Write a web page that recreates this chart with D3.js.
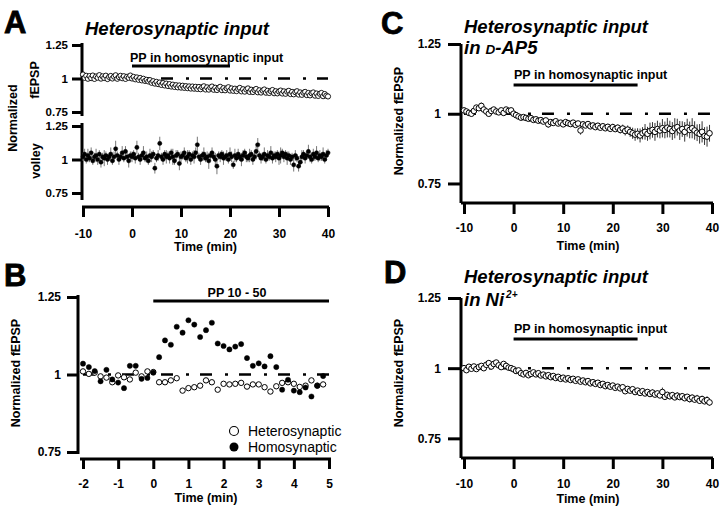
<!DOCTYPE html>
<html><head><meta charset="utf-8">
<script src="https://cdn.jsdelivr.net/npm/d3@7"></script>
<style>
html,body{margin:0;padding:0;background:#fff;}
svg{display:block;font-family:"Liberation Sans",Arial,Helvetica,sans-serif;}
</style></head><body>
<svg id="chart" width="720" height="508"></svg>
<script>
// ---------------- DATA ----------------
const yTickValues = [0.75, 1, 1.25];
const yTickLabels = ["0.75", "1", "1.25"];
const xTicksLong = [-10, 0, 10, 20, 30, 40];
const xTicksShort = [-2, -1, 0, 1, 2, 3, 4, 5];
const baselineValue = 1;

// Panel A: heterosynaptic fEPSP and fiber volley, sampled every 20 s from -10 min
const aStart = -10, aStep = 1 / 3;
const aFepsp = [
  1.03, 1.005, 1.02, 0.998, 1.018, 1.003, 1.022, 0.997, 1.015, 1.006,
  1.025, 0.999, 1.016, 1.004, 1.021, 0.996, 1.012, 1.019, 1.0, 1.014,
  1.024, 0.998, 1.011, 1.02, 1.002, 1.017, 0.997, 1.013, 1.005, 1.022, 1.0,
  1.012, 0.994, 1.008, 0.99, 1.004, 0.986, 0.998, 0.982, 0.99,
  0.978, 0.988, 0.968, 0.98, 0.962, 0.975, 0.958, 0.97, 0.952, 0.966,
  0.948, 0.962, 0.944, 0.958, 0.94, 0.954, 0.937, 0.95, 0.934, 0.948, 0.932,
  0.946, 0.93, 0.943, 0.928, 0.941, 0.925, 0.94, 0.924, 0.938, 0.922,
  0.937, 0.92, 0.935, 0.942, 0.918, 0.934, 0.917, 0.932, 0.94, 0.916,
  0.931, 0.914, 0.93, 0.938, 0.913, 0.928, 0.912, 0.927, 0.935, 0.91,
  0.926, 0.908, 0.924, 0.906, 0.922, 0.93, 0.904, 0.92, 0.902, 0.918,
  0.926, 0.9, 0.916, 0.899, 0.914, 0.922, 0.897, 0.912, 0.895, 0.91,
  0.918, 0.894, 0.908, 0.892, 0.906, 0.914, 0.89, 0.905, 0.889, 0.903,
  0.91, 0.888, 0.904, 0.886, 0.902, 0.908, 0.884, 0.9, 0.882, 0.898,
  0.905, 0.88, 0.896, 0.878, 0.894, 0.9, 0.876, 0.892, 0.874, 0.89,
  0.896, 0.872, 0.888, 0.87, 0.886, 0.892, 0.868, 0.884, 0.872, 0.866
];
const aVolley = [
  1.02, 1.04, 1.0, 1.03, 1.01, 1.05, 0.99, 1.02, 1.03, 1.0,
  1.04, 0.98, 1.02, 1.01, 1.03, 1.0, 1.02, 1.04, 0.99, 1.02,
  1.08, 1.03, 1.0, 1.02, 1.05, 1.01, 1.06, 1.02, 0.99, 1.03, 1.02,
  1.04, 1.01, 1.09, 1.02, 1.0, 1.03, 1.05, 1.01, 1.02, 0.99,
  1.03, 1.02, 1.04, 0.935, 1.01, 1.03, 1.12, 1.02, 1.0, 1.04,
  1.02, 1.03, 1.01, 1.05, 1.02, 0.99, 1.03, 1.04, 0.97, 1.02,
  1.03, 1.05, 1.01, 1.02, 1.04, 1.0, 1.03, 1.02, 1.05, 1.11,
  1.02, 1.0, 1.03, 1.04, 1.01, 1.02, 0.99, 1.03, 1.05, 1.02,
  1.0, 0.95, 1.03, 1.02, 1.04, 1.01, 1.02, 1.03, 1.0, 1.04,
  1.02, 0.96, 1.03, 1.01, 1.04, 1.02, 1.0, 1.03, 1.05, 1.02,
  1.01, 1.03, 1.04, 1.0, 1.02, 1.06, 1.11, 1.03, 1.01, 1.02,
  1.04, 1.0, 1.03, 1.02, 1.05, 1.01, 1.03, 1.02, 1.04, 1.01,
  1.03, 1.05, 1.02, 1.04, 1.01, 1.03, 1.0, 1.02, 0.96, 1.03,
  1.01, 0.95, 0.98, 1.02, 1.04, 1.01, 1.03, 1.06, 1.02, 1.0,
  1.04, 1.02, 1.05, 1.01, 1.03, 1.02, 1.04, 1.0, 1.03, 1.05
];
const aVolleyErr = [
  .03, .04, .03, .05, .03, .04, .03, .03, .05, .04,
  .03, .04, .03, .06, .03, .04, .03, .05, .03, .04,
  .06, .03, .04, .03, .05, .03, .04, .03, .05, .03, .04,
  .03, .04, .05, .03, .04, .03, .05, .03, .04, .03,
  .05, .04, .03, .04, .03, .04, .05, .03, .04, .03,
  .05, .03, .04, .03, .06, .03, .04, .03, .05, .04,
  .03, .04, .03, .05, .03, .04, .03, .05, .04, .06,
  .03, .04, .03, .05, .03, .04, .06, .03, .04, .03,
  .05, .06, .03, .04, .03, .05, .03, .04, .03, .05,
  .04, .03, .05, .03, .04, .03, .05, .04, .03, .04,
  .03, .05, .03, .04, .03, .06, .05, .03, .04, .03,
  .05, .03, .04, .03, .05, .04, .03, .04, .03, .05,
  .06, .03, .04, .03, .05, .03, .04, .03, .05, .04,
  .03, .04, .03, .05, .03, .04, .03, .05, .04, .03,
  .04, .03, .05, .03, .04, .03, .05, .03, .04, .03
];
const aPP = [0, 20];

// Panel B: every 10 s from -2 min
const bStart = -2, bStep = 1 / 6;
const bHetero = [
  1.010, 1.002, 1.006, 0.994, 0.99, 0.975, 0.997, 0.991, 0.984, 1.006,
  0.994, 1.010, 1.008, 0.975, 0.975, 0.981, 0.988, 0.948, 0.956, 0.959,
  0.964, 0.981, 0.975, 0.951, 0.97, 0.968, 0.97, 0.973, 0.961, 0.968,
  0.968, 0.959, 0.945, 0.962, 0.973, 0.975, 0.97, 0.96, 0.964, 0.981,
  0.964, 0.968
];
const bHomo = [
  1.035, 1.024, 1.011, 0.978, 1.015, 0.984, 0.974, 0.956, 1.028, 1.028,
  0.986, 0.989, 1.006, 1.056, 1.11, 1.096, 1.154, 1.135, 1.175, 1.161,
  1.121, 1.143, 1.167, 1.10, 1.092, 1.081, 1.09, 1.098, 1.053, 1.028,
  1.036, 1.026, 1.059, 1.024, 0.951, 0.983, 0.948, 0.943, 0.958, 0.929,
  0.964, 0.995
];
const bPP = [0, 5];
const bLegend = ["Heterosynaptic", "Homosynaptic"];

// Panel C: every 30 s from -10 min, in D-AP5
const cStart = -10, cStep = 0.5;
const cFepsp = [
  1.012, 1.008, 1.003, 1.0, 1.01, 1.022, 1.02, 1.028, 1.015, 1.008,
  1.0, 1.01, 1.015, 1.008, 1.005, 1.012, 1.003, 1.015, 1.01, 1.012,
  1.0, 0.995, 0.99, 0.986, 0.988, 0.985, 0.982, 0.984, 0.978, 0.98,
  0.975, 0.977, 0.972, 0.976, 0.962, 0.97, 0.967, 0.973, 0.965, 0.968,
  0.962, 0.97, 0.966, 0.963, 0.968, 0.96, 0.965, 0.94, 0.962, 0.958,
  0.963, 0.955, 0.958, 0.952, 0.957, 0.95, 0.955, 0.948, 0.953, 0.946,
  0.952, 0.945, 0.95, 0.942, 0.947, 0.938, 0.943, 0.935, 0.93, 0.925,
  0.928, 0.922, 0.93, 0.935, 0.928, 0.938, 0.942, 0.935, 0.945, 0.94,
  0.948, 0.942, 0.95, 0.945, 0.938, 0.948, 0.952, 0.94, 0.945, 0.935,
  0.95, 0.942, 0.948, 0.94, 0.932, 0.928, 0.935, 0.92, 0.918, 0.93
];
const cErr = [
  0.006, 0.008, 0.007, 0.006, 0.009, 0.008, 0.01, 0.012, 0.008, 0.007,
  0.006, 0.008, 0.007, 0.009, 0.006, 0.008, 0.007, 0.006, 0.008, 0.007,
  0.006, 0.007, 0.008, 0.006, 0.007, 0.008, 0.006, 0.007, 0.006, 0.008,
  0.007, 0.006, 0.008, 0.007, 0.012, 0.008, 0.007, 0.006, 0.008, 0.007,
  0.006, 0.008, 0.007, 0.009, 0.008, 0.007, 0.008, 0.015, 0.009, 0.008,
  0.009, 0.01, 0.008, 0.009, 0.01, 0.008, 0.01, 0.009, 0.011, 0.01,
  0.012, 0.01, 0.011, 0.013, 0.014, 0.016, 0.015, 0.018, 0.02, 0.022,
  0.02, 0.025, 0.022, 0.028, 0.025, 0.03, 0.028, 0.032, 0.03, 0.028,
  0.033, 0.03, 0.035, 0.03, 0.032, 0.036, 0.03, 0.034, 0.028, 0.035,
  0.032, 0.03, 0.036, 0.033, 0.03, 0.035, 0.038, 0.032, 0.036, 0.03
];
const cPP = [0, 25];

// Panel D: every 30 s from -10 min, in Ni2+
const dStart = -10, dStep = 0.5;
const dFepsp = [
  1.0, 0.993, 1.005, 0.998, 1.006, 0.997, 1.004, 1.008, 1.0, 1.012,
  1.018, 1.006, 1.015, 1.02, 1.01, 1.004, 1.015, 1.008, 1.002, 1.0,
  0.996, 0.99, 0.992, 0.982, 0.978, 0.983, 0.975, 0.98, 0.985, 0.978,
  0.982, 0.974, 0.977, 0.971, 0.975, 0.968, 0.972, 0.965, 0.969, 0.962,
  0.966, 0.96, 0.964, 0.958, 0.962, 0.955, 0.96, 0.952, 0.956, 0.95,
  0.954, 0.946, 0.95, 0.944, 0.948, 0.94, 0.944, 0.936, 0.94, 0.934,
  0.938, 0.93, 0.934, 0.928, 0.932, 0.918, 0.926, 0.92, 0.925, 0.915,
  0.92, 0.912, 0.918, 0.91, 0.915, 0.908, 0.913, 0.906, 0.91, 0.903,
  0.915, 0.898, 0.905, 0.9, 0.904, 0.896, 0.902, 0.897, 0.9, 0.893,
  0.898, 0.89, 0.895, 0.888, 0.892, 0.884, 0.89, 0.882, 0.886, 0.878
];
const dErr = [
  0.006, 0.005, 0.006, 0.005, 0.006, 0.007, 0.006, 0.005, 0.006, 0.007,
  0.006, 0.008, 0.006, 0.007, 0.006, 0.005, 0.006, 0.007, 0.006, 0.005,
  0.006, 0.005, 0.006, 0.007, 0.005, 0.006, 0.005, 0.006, 0.007, 0.005,
  0.006, 0.005, 0.006, 0.005, 0.007, 0.006, 0.005, 0.006, 0.005, 0.006,
  0.007, 0.005, 0.006, 0.005, 0.006, 0.007, 0.005, 0.006, 0.005, 0.006,
  0.007, 0.006, 0.005, 0.006, 0.007, 0.005, 0.006, 0.007, 0.006, 0.008,
  0.007, 0.008, 0.006, 0.007, 0.009, 0.008, 0.007, 0.009, 0.008, 0.01,
  0.008, 0.009, 0.01, 0.008, 0.009, 0.01, 0.012, 0.009, 0.01, 0.008,
  0.016, 0.01, 0.009, 0.011, 0.01, 0.009, 0.012, 0.01, 0.011, 0.009,
  0.01, 0.012, 0.011, 0.01, 0.013, 0.011, 0.012, 0.01, 0.014, 0.012
];
const dPP = [0, 25];

// ---------------- DRAWING ----------------
const FONT = '"Liberation Sans", Arial, Helvetica, sans-serif';
const svg = d3.select("#chart");

function label(x, y, str, size, opts = {}) {
  const t = svg.append("text").attr("x", x).attr("y", y).text(str)
    .attr("font-size", size).attr("font-weight", opts.weight || "bold")
    .attr("font-style", opts.italic ? "italic" : "normal")
    .attr("text-anchor", opts.anchor || "start").attr("fill", "#000");
  return t;
}
function vLabel(cx, cy, str, size) {
  svg.append("text").attr("transform", `translate(${cx},${cy}) rotate(-90)`)
    .attr("text-anchor", "middle").attr("dy", "0.36em")
    .attr("font-size", size).attr("font-weight", "bold").text(str);
}
function yAxisAt(x, scale, top, bottom, tickLen, pad, fontSize) {
  svg.append("line").attr("x1", x).attr("x2", x).attr("y1", top).attr("y2", bottom)
    .attr("stroke", "#000").attr("stroke-width", 3);
  const g = svg.append("g").attr("transform", `translate(${x},0)`)
    .call(d3.axisLeft(scale).tickValues(yTickValues).tickFormat((d, i) => yTickLabels[i])
      .tickSize(tickLen).tickPadding(pad));
  g.select(".domain").remove();
  g.attr("font-family", FONT).attr("font-size", fontSize || 12).attr("font-weight", "bold");
  g.selectAll(".tick line").attr("stroke", "#000").attr("stroke-width", 3);
  g.selectAll(".tick text").attr("fill", "#000");
}
function xAxisAt(y, scale, ticks, x1, x2, tickLen, labelDrop) {
  svg.append("line").attr("x1", x1).attr("x2", x2).attr("y1", y).attr("y2", y)
    .attr("stroke", "#000").attr("stroke-width", 3);
  const g = svg.append("g").attr("transform", `translate(0,${y})`)
    .call(d3.axisBottom(scale).tickValues(ticks).tickFormat(d => String(d)).tickSize(tickLen));
  g.select(".domain").remove();
  g.attr("font-family", FONT).attr("font-size", 12).attr("font-weight", "bold");
  g.selectAll(".tick line").attr("stroke", "#000").attr("stroke-width", 3);
  g.selectAll(".tick text").attr("fill", "#000").attr("y", labelDrop).attr("dy", 0);
}
function refLine(xs, ys, t0, t1) {
  svg.append("line").attr("x1", xs(t0)).attr("x2", xs(t1))
    .attr("y1", ys(baselineValue)).attr("y2", ys(baselineValue))
    .attr("stroke", "#000").attr("stroke-width", 2.6)
    .attr("stroke-dasharray", "12,13,3,11");
}
function ppBar(xs, yPix, range) {
  svg.append("line").attr("x1", xs(range[0])).attr("x2", xs(range[1]))
    .attr("y1", yPix).attr("y2", yPix).attr("stroke", "#000").attr("stroke-width", 3);
}
function errBars(xs, ys, start, step, vals, errs, color, w) {
  svg.append("g").selectAll("line").data(vals).join("line")
    .attr("x1", (d, i) => xs(start + i * step)).attr("x2", (d, i) => xs(start + i * step))
    .attr("y1", (d, i) => ys(d - errs[i])).attr("y2", (d, i) => ys(d + errs[i]))
    .attr("stroke", color).attr("stroke-width", w);
}
function points(xs, ys, start, step, vals, r, filled, sw) {
  svg.append("g").selectAll("circle").data(vals).join("circle")
    .attr("cx", (d, i) => xs(start + i * step)).attr("cy", d => ys(d)).attr("r", r)
    .attr("fill", filled ? "#000" : "#fff").attr("stroke", "#000").attr("stroke-width", sw);
}

// ----- Panel A -----
const xA = d3.scaleLinear().domain([-10, 40]).range([83, 328]);
const yA1 = d3.scaleLinear().domain([0.75, 1.25]).range([112, 45]);
const yA2 = d3.scaleLinear().domain([0.75, 1.25]).range([193, 126]);
label(4, 33, "A", 31).attr("stroke", "#000").attr("stroke-width", 0.8);
label(85, 35, "Heterosynaptic input", 18.5, { italic: true });
yAxisAt(82, yA1, 43, 116, 10, 4, 11.5);
yAxisAt(82, yA2, 123, 200, 10, 4, 11.5);
xAxisAt(207, xA, xTicksLong, 82, 329, 10, 31);
label(xA(15), 251, "Time (min)", 12.5, { anchor: "middle" });
vLabel(12, 118, "Normalized", 12.5);
vLabel(34, 80, "fEPSP", 12.5);
vLabel(35, 161, "volley", 12.5);
ppBar(xA, 66, aPP);
label(130, 62, "PP in homosynaptic input", 12.5);
refLine(xA, yA1, -10, 40);
points(xA, yA1, aStart, aStep, aFepsp, 2.6, false, 0.9);
errBars(xA, yA2, aStart, aStep, aVolley, aVolleyErr, "#777", 1);
points(xA, yA2, aStart, aStep, aVolley, 2.1, true, 0.5);

// ----- Panel B -----
const xB = d3.scaleLinear().domain([-2, 5]).range([83, 329]);
const yB = d3.scaleLinear().domain([0.75, 1.25]).range([452, 297]);
label(4, 286, "B", 31).attr("stroke", "#000").attr("stroke-width", 0.8);
yAxisAt(78, yB, 295, 454, 11, 6);
xAxisAt(459, xB, xTicksShort, 80, 331, 10, 29);
label(xB(1.5), 502, "Time (min)", 12.5, { anchor: "middle" });
vLabel(15, 373, "Normalized fEPSP", 12.5);
ppBar(xB, 301, bPP);
label(237, 297, "PP 10 - 50", 12.5, { anchor: "middle" });
refLine(xB, yB, -2, 5);
points(xB, yB, bStart, bStep, bHetero, 2.7, false, 1);
points(xB, yB, bStart, bStep, bHomo, 2.6, true, 0.5);
svg.append("circle").attr("cx", 234).attr("cy", 431).attr("r", 4.5).attr("fill", "#fff").attr("stroke", "#000").attr("stroke-width", 1.1);
svg.append("circle").attr("cx", 234).attr("cy", 447).attr("r", 4.5).attr("fill", "#000");
label(248, 436, bLegend[0], 14, { weight: "normal" });
label(248, 452, bLegend[1], 14, { weight: "normal" });

// ----- Panel C -----
const xC = d3.scaleLinear().domain([-10.6, 40]).range([461, 712]);
const yC = d3.scaleLinear().domain([0.68, 1.25]).range([203, 44]);
label(381, 34, "C", 31).attr("stroke", "#000").attr("stroke-width", 0.8);
label(464, 33, "Heterosynaptic input", 18.5, { italic: true });
const tC2 = label(464, 54, "in ", 18.5, { italic: true });
tC2.append("tspan").attr("font-size", 13.5).text("D");
tC2.append("tspan").text("-AP5");
yAxisAt(461, yC, 44, 203, 13, 7);
xAxisAt(203, xC, xTicksLong, 461, 713, 11, 29);
label(xC(15), 250, "Time (min)", 12.5, { anchor: "middle" });
vLabel(398, 121, "Normalized fEPSP", 12.5);
ppBar(xC, 85, cPP);
label(514, 79, "PP in homosynaptic input", 12.5);
refLine(xC, yC, -10, 40);
errBars(xC, yC, cStart, cStep, cFepsp, cErr, "#333", 1);
points(xC, yC, cStart, cStep, cFepsp, 2.8, false, 1);

// ----- Panel D -----
const xD = d3.scaleLinear().domain([-10.6, 40]).range([461, 712]);
const yD = d3.scaleLinear().domain([0.68, 1.25]).range([458, 298]);
label(384, 283, "D", 31).attr("stroke", "#000").attr("stroke-width", 0.8);
label(464, 283, "Heterosynaptic input", 18.5, { italic: true });
const tD2 = label(464, 306, "in Ni", 18.5, { italic: true });
tD2.append("tspan").attr("font-size", 10).attr("dx", 2).attr("dy", -8).text("2+");
yAxisAt(461, yD, 298, 458, 13, 7);
xAxisAt(458, xD, xTicksLong, 461, 713, 11, 30);
label(xD(15), 503, "Time (min)", 12.5, { anchor: "middle" });
vLabel(398, 373, "Normalized fEPSP", 12.5);
ppBar(xD, 339, dPP);
label(514, 333, "PP in homosynaptic input", 12.5);
refLine(xD, yD, -10, 40);
errBars(xD, yD, dStart, dStep, dFepsp, dErr, "#333", 1);
points(xD, yD, dStart, dStep, dFepsp, 2.8, false, 1);
</script></body></html>
